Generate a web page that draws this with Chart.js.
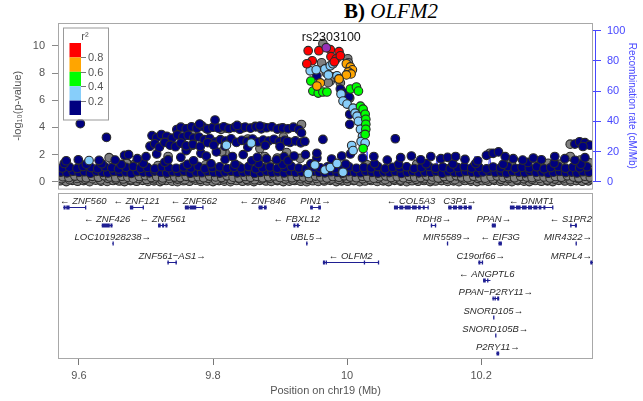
<!DOCTYPE html>
<html>
<head>
<meta charset="utf-8">
<script src="https://cdn.jsdelivr.net/npm/chart.js@4.4.0/dist/chart.umd.min.js"></script>
<style>
  body { margin: 0; background: #fff; width: 643px; height: 401px; position: relative; overflow: hidden; }
  #top { position: absolute; left: 0; top: 0; }
  #genes { position: absolute; left: 0; top: 190px; }
  #title { position: absolute; left: 344px; top: -2px; font-family: 'Liberation Serif', 'DejaVu Serif', serif; font-size: 21px; line-height: 26px; color: #000; white-space: nowrap; }
</style>
</head>
<body>
<div id="title"><b>B)</b> <i>OLFM2</i></div>
<canvas id="top" width="643" height="194"></canvas>
<canvas id="genes" width="643" height="211"></canvas>
<script>
// axis ticks
const pTicks = [0, 2, 4, 6, 8, 10];
const recTicks = [0, 20, 40, 60, 80, 100];
const posTicks = [9.6, 9.8, 10.0, 10.2];
const legendLabels = ['0.8', '0.6', '0.4', '0.2'];

// lead SNP
const leadName = 'rs2303100';
const leadSnp = [[9.969, 9.87]];

// r2 0.8 - 1
const ld8 = [[9.942,9.65],[9.958,9.65],[9.948,8.91],[9.940,8.69],[9.975,9.73],[9.988,9.58],
  [9.976,9.21],[9.984,9.06],[9.981,8.83],[9.990,9.28]];

// r2 0.6 - 0.8
const ld6 = [[9.999,8.69],[10.005,8.46],[10.008,8.24],[10.002,8.09],[10.006,7.94],[9.999,7.87],
  [9.988,7.57],[9.960,7.28],[9.955,7.05]];

// r2 0.4 - 0.6
const ld4 = [[9.946,7.42],[9.949,6.68],[9.957,6.53],[9.964,6.61],[9.970,6.61],[10.005,6.83],
  [10.014,6.98],[10.017,6.68],[10.020,5.57],[10.024,5.35],[10.027,4.97],[10.028,4.60],
  [10.028,4.23],[10.028,3.86],[10.027,3.49],[10.024,2.45]];

// r2 0.2 - 0.4
const ld2 = [[9.945,8.17],[9.954,8.24],[9.967,8.31],[9.975,8.54],[9.979,8.69],[9.985,7.80],
  [9.988,7.57],[9.972,7.87],[9.991,6.46],[9.994,5.94],[10.000,5.72],[10.009,5.42],
  [10.012,5.05],[10.015,4.83],[10.017,4.45],[10.020,3.86],[10.023,3.34],[10.021,2.97],
  [10.007,2.67],[10.009,2.30],[10.027,2.85],[9.615,1.56],[9.820,2.70],[9.857,2.85],
  [9.952,1.24],[9.967,0.87],[9.942,0.62],[9.975,1.05],[9.994,0.70],[9.985,1.35]];

// r2 < 0.2
const ld0 = [
  [9.573,0.72],[9.582,0.66],[9.591,0.78],[9.600,0.69],[9.608,0.74],[9.617,0.63],[9.626,0.77],[9.635,0.70],
  [9.643,0.65],[9.652,0.76],[9.661,0.68],[9.670,0.73],[9.678,0.62],[9.687,0.75],[9.696,0.71],[9.705,0.66],
  [9.713,0.79],[9.722,0.69],[9.731,0.64],[9.740,0.74],[9.748,0.70],[9.757,0.77],[9.766,0.63],[9.775,0.72],
  [9.783,0.67],[9.792,0.76],[9.801,0.69],[9.810,0.64],[9.818,0.73],[9.827,0.78],[9.836,0.66],[9.845,0.71],
  [9.853,0.75],[9.862,0.62],[9.871,0.70],[9.880,0.77],[9.888,0.68],[9.897,0.73],[9.906,0.65],[9.915,0.76],
  [9.923,0.69],[9.932,0.72],[9.941,0.64],[9.950,0.78],[9.958,0.70],[9.967,0.66],[9.976,0.74],[9.985,0.69],
  [9.993,0.63],[10.002,0.75],[10.011,0.71],[10.020,0.67],[10.028,0.78],[10.037,0.70],[10.046,0.64],[10.055,0.73],
  [10.063,0.68],[10.072,0.76],[10.081,0.62],[10.090,0.71],[10.098,0.75],[10.107,0.66],[10.116,0.72],[10.125,0.69],
  [10.133,0.77],[10.142,0.63],[10.151,0.74],[10.160,0.70],[10.168,0.67],[10.177,0.76],[10.186,0.71],[10.195,0.65],
  [10.203,0.73],[10.212,0.78],[10.221,0.68],[10.230,0.72],[10.238,0.64],[10.247,0.75],[10.256,0.70],[10.265,0.66],
  [10.273,0.77],[10.282,0.69],[10.291,0.73],[10.300,0.63],[10.308,0.71],[10.317,0.76],[10.326,0.68],[10.335,0.72],
  [10.343,0.65],[10.352,0.74],[10.361,0.70],
  [9.575,1.02],[9.586,1.08],[9.597,0.98],[9.606,1.12],[9.618,1.05],[9.628,0.97],[9.639,1.10],[9.649,1.03],
  [9.659,0.95],[9.670,1.07],[9.681,1.13],[9.692,1.00],[9.702,1.06],[9.713,0.96],[9.724,1.11],[9.734,1.04],
  [9.745,0.99],[9.756,1.09],[9.767,1.02],[9.778,1.14],[9.788,0.97],[9.799,1.05],[9.810,1.10],[9.821,0.98],
  [9.831,1.07],[9.842,1.01],[9.853,1.12],[9.864,0.96],[9.874,1.04],[9.885,1.09],[9.896,0.99],[9.907,1.06],
  [9.917,1.13],[9.928,1.01],[9.939,0.95],[9.950,1.08],[9.960,1.03],[9.971,1.11],[9.982,0.97],[9.993,1.05],
  [10.003,1.10],[10.014,0.99],[10.025,1.06],[10.036,1.02],[10.046,1.12],[10.057,0.96],[10.068,1.07],[10.079,1.03],
  [10.089,1.10],[10.100,0.98],[10.111,1.05],[10.122,1.13],[10.132,1.00],[10.143,1.08],[10.154,0.97],[10.165,1.04],
  [10.175,1.11],[10.186,1.01],[10.197,1.06],[10.208,0.95],[10.218,1.09],[10.229,1.03],[10.240,1.12],[10.251,0.99],
  [10.261,1.07],[10.272,1.02],[10.283,1.10],[10.294,0.96],[10.304,1.05],[10.315,1.13],[10.326,1.00],[10.337,1.08],
  [10.347,1.03],[10.358,1.11],
  [9.578,1.35],[9.611,1.30],[9.634,1.33],[9.663,1.28],[9.696,1.36],[9.728,1.44],[9.762,1.29],[9.797,1.33],
  [9.833,1.30],[9.868,1.35],[9.904,1.28],[9.946,1.32],[9.998,1.30],[10.041,1.34],[10.077,1.29],[10.118,1.33],
  [10.158,1.31],[10.192,1.35],[10.233,1.29],[10.270,1.43],[10.309,1.37],[10.349,1.30],
  [9.581,1.55],[9.599,1.62],[9.630,1.58],[9.654,1.60],[9.668,1.95],[9.674,2.00],[9.687,1.70],[9.700,1.85],
  [9.716,2.05],[9.733,1.62],[9.752,1.80],[9.760,2.30],[9.771,1.55],[9.782,2.10],[9.790,1.90],[9.805,2.20],
  [9.818,1.65],[9.829,1.86],[9.845,2.00],[9.858,1.55],[9.866,1.80],[9.880,1.70],[9.895,1.62],[9.906,1.85],
  [9.912,1.55],[9.921,1.90],[9.938,2.00],[9.955,1.75],[9.977,1.68],[9.992,1.90],[10.005,2.05],[10.023,1.75],
  [10.040,1.86],[10.060,1.60],[10.080,1.78],[10.096,1.90],[10.110,1.62],[10.125,1.86],[10.140,1.70],[10.150,1.80],
  [10.162,1.86],[10.176,1.65],[10.195,1.55],[10.208,1.95],[10.218,2.10],[10.226,2.20],[10.236,1.85],[10.248,1.70],
  [10.262,1.60],[10.278,1.75],[10.290,1.62],[10.310,1.86],[10.325,1.70],[10.340,1.58],[10.355,1.78],
  [9.602,4.28],[9.641,3.27],[10.072,3.17],
  [9.746,3.85],[9.752,4.02],[9.760,3.90],[9.768,4.05],[9.776,3.95],[9.784,4.10],[9.792,3.88],[9.800,4.02],
  [9.808,3.95],[9.816,4.05],[9.824,3.92],[9.832,4.00],[9.840,3.87],[9.848,4.03],[9.856,3.95],[9.864,4.05],
  [9.872,3.90],[9.880,3.98],[9.888,4.05],[9.896,3.88],[9.904,3.97],[9.912,3.90],[9.920,4.02],[9.928,3.85],
  [9.780,4.25],[9.803,4.55],[9.836,4.15],[9.870,4.10],
  [9.709,3.40],[9.716,3.25],[9.723,3.48],[9.731,3.35],[9.739,3.20],[9.747,3.45],[9.755,3.30],[9.763,3.42],
  [9.771,3.22],[9.779,3.30],[9.787,3.10],[9.795,3.20],[9.803,2.93],[9.811,3.10],[9.819,3.00],[9.827,3.17],
  [9.835,2.90],[9.843,3.05],[9.851,2.97],[9.859,3.15],[9.867,2.93],[9.875,3.07],[9.883,3.00],[9.891,3.13],
  [9.899,2.95],[9.907,3.05],[9.915,2.90],[9.923,3.01],[9.931,2.87],
  [9.706,2.62],[9.713,2.80],[9.720,2.55],[9.728,2.90],[9.736,2.70],[9.744,2.58],[9.752,2.85],[9.760,2.65],
  [9.770,2.75],[9.781,2.60],[9.792,2.88],[9.801,2.70],[9.818,2.62],[9.852,2.55],[9.878,2.68],
  [9.900,2.60],
  [9.990,6.83],[9.996,6.53],[10.003,6.24],[10.004,4.97],[10.004,4.23],[9.964,3.12],[9.955,2.10],[9.932,3.60],
  [9.937,2.97],[9.911,2.97],[9.955,7.80],
  [10.340,2.78],[10.347,2.95],[10.355,2.88],[10.362,2.70],[10.352,2.60]
];

// r2 missing
const naSnps = [
  [9.964,10.17],[9.962,8.76],[10.001,9.06],[10.002,8.76],[9.975,7.42],[9.990,7.28],[9.969,8.02],[10.004,6.16],
  [9.979,7.72],[9.972,7.30],
  [9.780,4.22],[9.932,4.22],[9.768,3.55],[9.820,3.95],[9.875,4.02],[9.905,3.30],[9.760,2.50],[9.733,1.86],
  [9.683,1.30],[9.650,1.60],[9.738,3.20],[9.852,3.15],[9.870,2.45],[9.818,2.15],[9.896,1.75],[9.930,1.72],
  [9.910,2.15],[9.770,2.70],[9.645,1.78],[9.672,1.36],[9.762,2.47],[9.863,4.08],[9.813,2.20],[9.877,1.86],
  [9.790,3.92],[9.845,3.98],[9.900,3.93],[9.812,3.86],
  [9.583,0.55],[9.602,1.22],[9.645,0.88],[9.671,1.35],[9.718,1.20],[9.771,0.90],[9.789,1.25],[9.838,1.15],
  [9.884,1.30],[9.927,0.85],[10.030,1.25],[10.067,0.90],[10.104,1.30],[10.148,0.95],[10.190,1.20],[10.222,0.80],
  [10.245,1.40],[10.285,1.15],[10.318,1.30],[10.352,0.95],[10.362,1.40],
  [10.213,2.10],[10.333,1.86],[10.333,2.77],[10.300,1.36],[10.348,1.60],
  [9.572,0.08],[9.581,0.02],[9.590,0.11],[9.598,0.04],[9.607,0.09],[9.616,0.01],[9.625,0.12],[9.633,0.05],
  [9.642,0.03],[9.651,0.10],[9.660,0.06],[9.668,0.02],[9.677,0.09],[9.686,0.04],[9.695,0.11],[9.703,0.03],
  [9.712,0.07],[9.721,0.02],[9.730,0.10],[9.739,0.05],[9.747,0.01],[9.756,0.08],[9.765,0.04],[9.774,0.12],
  [9.782,0.03],[9.791,0.06],[9.800,0.02],[9.809,0.09],[9.817,0.05],[9.826,0.01],[9.835,0.10],[9.844,0.04],
  [9.852,0.07],[9.861,0.02],[9.870,0.11],[9.879,0.06],[9.887,0.03],[9.896,0.09],[9.905,0.02],[9.914,0.05],
  [9.922,0.10],[9.931,0.04],[9.940,0.01],[9.949,0.08],[9.957,0.03],[9.966,0.06],[9.975,0.11],[9.984,0.02],
  [9.992,0.07],[10.001,0.04],[10.010,0.09],[10.019,0.01],[10.027,0.06],[10.036,0.10],[10.045,0.03],[10.054,0.07],
  [10.062,0.02],[10.071,0.11],[10.080,0.05],[10.089,0.01],[10.097,0.08],[10.106,0.04],[10.115,0.10],[10.124,0.02],
  [10.132,0.06],[10.141,0.09],[10.150,0.03],[10.159,0.07],[10.167,0.01],[10.176,0.10],[10.185,0.05],[10.194,0.02],
  [10.202,0.08],[10.211,0.04],[10.220,0.11],[10.229,0.03],[10.237,0.06],[10.246,0.01],[10.255,0.09],[10.264,0.05],
  [10.272,0.02],[10.281,0.10],[10.290,0.04],[10.299,0.07],[10.307,0.02],[10.316,0.11],[10.325,0.06],[10.334,0.03],
  [10.342,0.09],[10.351,0.04],[10.360,0.07],
  [9.574,0.22],[9.586,0.16],[9.597,0.25],[9.609,0.18],[9.620,0.23],[9.632,0.14],[9.643,0.26],[9.655,0.19],
  [9.666,0.21],[9.678,0.15],[9.689,0.24],[9.701,0.17],[9.712,0.22],[9.724,0.13],[9.735,0.25],[9.747,0.20],
  [9.758,0.16],[9.770,0.23],[9.781,0.18],[9.793,0.26],[9.804,0.14],[9.816,0.21],[9.827,0.17],[9.839,0.24],
  [9.850,0.19],[9.862,0.15],[9.873,0.22],[9.885,0.26],[9.896,0.16],[9.908,0.20],[9.919,0.13],[9.931,0.23],
  [9.942,0.18],[9.954,0.25],[9.965,0.15],[9.977,0.21],[9.988,0.17],[10.000,0.24],[10.011,0.14],[10.023,0.22],
  [10.034,0.19],[10.046,0.26],[10.057,0.16],[10.069,0.21],[10.080,0.13],[10.092,0.24],[10.103,0.18],[10.115,0.22],
  [10.126,0.15],[10.138,0.25],[10.149,0.20],[10.161,0.16],[10.172,0.23],[10.184,0.17],[10.195,0.26],[10.207,0.14],
  [10.218,0.21],[10.230,0.18],[10.241,0.24],[10.253,0.15],[10.264,0.22],[10.276,0.19],[10.287,0.25],[10.299,0.13],
  [10.310,0.20],[10.322,0.23],[10.333,0.16],[10.345,0.24],[10.356,0.18],[10.365,0.21],
  [9.576,0.38],[9.585,0.31],[9.594,0.42],[9.603,0.35],[9.611,0.29],[9.620,0.40],[9.629,0.33],[9.638,0.44],
  [9.646,0.36],[9.655,0.30],[9.664,0.41],[9.673,0.34],[9.681,0.27],[9.690,0.39],[9.699,0.45],[9.708,0.32],
  [9.716,0.37],[9.725,0.28],[9.734,0.43],[9.743,0.35],[9.751,0.31],[9.760,0.40],[9.769,0.33],[9.778,0.38],
  [9.786,0.29],[9.795,0.42],[9.804,0.36],[9.813,0.31],[9.821,0.44],[9.830,0.34],[9.839,0.28],[9.848,0.39],
  [9.856,0.33],[9.865,0.41],[9.874,0.30],[9.883,0.37],[9.891,0.43],[9.900,0.32],[9.909,0.38],[9.918,0.29],
  [9.926,0.40],[9.935,0.35],[9.944,0.31],[9.953,0.42],[9.961,0.36],[9.970,0.28],[9.979,0.39],[9.988,0.33],
  [9.996,0.44],[10.005,0.35],[10.014,0.30],[10.023,0.41],[10.031,0.34],[10.040,0.27],[10.049,0.38],[10.058,0.43],
  [10.066,0.32],[10.075,0.37],[10.084,0.29],[10.093,0.40],[10.101,0.34],[10.110,0.31],[10.119,0.42],[10.128,0.36],
  [10.136,0.28],[10.145,0.39],[10.154,0.33],[10.163,0.44],[10.171,0.35],[10.180,0.30],[10.189,0.41],[10.198,0.34],
  [10.206,0.27],[10.215,0.38],[10.224,0.43],[10.233,0.32],[10.241,0.37],[10.250,0.29],[10.259,0.40],[10.268,0.35],
  [10.276,0.31],[10.285,0.42],[10.294,0.36],[10.303,0.28],[10.311,0.39],[10.320,0.33],[10.329,0.44],[10.338,0.35],
  [10.346,0.30],[10.355,0.41],[10.363,0.34]
];

// recombination rate (cM/Mb)
const recPos = [9.569, 9.600, 9.640, 9.700, 9.760, 9.820, 9.880, 9.940, 9.990, 10.020, 10.025, 10.027,
  10.030, 10.032, 10.060, 10.100, 10.106, 10.109, 10.112, 10.128, 10.132, 10.134, 10.137, 10.140,
  10.142, 10.145, 10.170, 10.186, 10.189, 10.191, 10.194, 10.205, 10.210, 10.213, 10.216, 10.240,
  10.280, 10.320, 10.367];
const recRate = [0.5, 0.8, 0.4, 0.6, 0.3, 0.5, 0.7, 1.0, 1.5, 2, 21, 3,
  20, 2, 1.5, 2, 4, 17, 3, 2, 5, 17, 3, 4,
  12, 2, 1.5, 2, 6, 17, 3, 2, 5, 18, 3, 1.5,
  2.5, 1.8, 2];

// genes
const geneNames = ['ZNF560', 'ZNF121', 'ZNF562', 'ZNF846', 'PIN1', 'COL5A3', 'C3P1', 'DNMT1',
  'ZNF426', 'ZNF561', 'FBXL12', 'RDH8', 'PPAN', 'S1PR2',
  'LOC101928238', 'UBL5', 'MIR5589', 'EIF3G', 'MIR4322',
  'ZNF561\u2212AS1', 'OLFM2', 'C19orf66', 'MRPL4',
  'ANGPTL6', 'PPAN\u2212P2RY11', 'SNORD105', 'SNORD105B', 'P2RY11'];
const geneStart = [9.5766, 9.676, 9.758, 9.868, 9.945, 10.070, 10.151, 10.243,
  9.634, 9.718, 9.920, 10.125, 10.216, 10.333,
  9.650, 9.939, 10.149, 10.226, 10.341,
  9.732, 9.964, 10.196, 10.363,
  10.203, 10.217, 10.218, 10.221, 10.223];
const geneEnd = [9.610, 9.696, 9.785, 9.880, 9.961, 10.121, 10.186, 10.307,
  9.650, 9.732, 9.930, 10.133, 10.222, 10.343,
  9.651, 9.941, 10.1495, 10.231, 10.3413,
  9.746, 10.047, 10.203, 10.375,
  10.214, 10.227, 10.2185, 10.2215, 10.227];
const geneStrand = [-1, -1, -1, -1, 1, -1, 1, -1,
  -1, -1, -1, 1, 1, -1,
  1, 1, 1, -1, 1,
  1, -1, 1, 1,
  -1, 1, 1, 1, 1];
const geneRow = [1, 1, 1, 1, 1, 1, 1, 1,
  2, 2, 2, 2, 2, 2,
  3, 3, 3, 3, 3,
  4, 4, 4, 4,
  5, 6, 7, 8, 9];
const geneExons = [
  [[9.577,9.580],[9.581,9.586],[9.609,9.610]],
  [[9.676,9.681],[9.695,9.696]],
  [[9.758,9.764],[9.765,9.775],[9.784,9.785]],
  [[9.868,9.874],[9.876,9.880]],
  [[9.945,9.949],[9.957,9.961]],
  [[10.070,10.076],[10.078,10.084],[10.086,10.095],[10.097,10.104],[10.106,10.110],[10.113,10.116],[10.120,10.121]],
  [[10.151,10.156],[10.158,10.164],[10.166,10.172],[10.174,10.179],[10.181,10.186]],
  [[10.243,10.250],[10.252,10.259],[10.261,10.268],[10.270,10.276],[10.278,10.284],[10.286,10.290],[10.293,10.296],[10.306,10.307]],
  [[9.634,9.646],[9.647,9.650]],
  [[9.718,9.722],[9.724,9.727],[9.729,9.732]],
  [[9.920,9.923],[9.925,9.928]],
  [[10.125,10.127],[10.131,10.133]],
  [[10.216,10.222]],
  [[10.333,10.335],[10.340,10.343]],
  [[9.650,9.651]],
  [[9.939,9.941]],
  [[10.149,10.1495]],
  [[10.226,10.231]],
  [[10.341,10.3413]],
  [[9.732,9.734],[9.744,9.746]],
  [[9.964,9.967],[9.968,9.970],[10.025,10.026],[10.046,10.047]],
  [[10.196,10.199],[10.201,10.203]],
  [[10.363,10.366],[10.368,10.372]],
  [[10.203,10.207],[10.209,10.210]],
  [[10.217,10.219],[10.220,10.222],[10.224,10.227]],
  [[10.218,10.2185]],
  [[10.221,10.2215]],
  [[10.223,10.227]]
];

const xMin = 9.5687, xMax = 10.367;
const FONT = "'Liberation Sans', Arial, 'DejaVu Sans', sans-serif";
Chart.defaults.font.family = FONT;
Chart.defaults.font.size = 11;

const recColor = '#4747ff';
const ldFills = ['#FF0000', '#FFA500', '#00FF00', '#87CEFA', '#000080'];

function toPts(list) {
  return list.map(p => ({ x: p[0], y: p[1] }));
}

function snpSet(label, list, fill) {
  return {
    type: 'scatter', label: label, data: toPts(list), yAxisID: 'y',
    backgroundColor: fill, borderColor: '#2b2b2b', borderWidth: 1.1,
    pointRadius: 4.3
  };
}

// decorations of the association panel
const topDecor = {
  id: 'topDecor',
  afterDraw(chart) {
    const ctx = chart.ctx, ca = chart.chartArea, y2 = chart.scales.y2, y = chart.scales.y, x = chart.scales.x;
    ctx.save();
    ctx.strokeStyle = '#a8a8a8';
    ctx.lineWidth = 1;
    ctx.strokeRect(ca.left + 0.5, ca.top + 0.5, ca.width - 1, ca.height);

    // right axis line
    ctx.strokeStyle = recColor;
    ctx.beginPath();
    ctx.moveTo(ca.right + 2.5, y2.getPixelForValue(0));
    ctx.lineTo(ca.right + 2.5, y2.getPixelForValue(100));
    ctx.stroke();

    // lead snp label
    ctx.fillStyle = '#111';
    ctx.font = '12.5px ' + FONT;
    ctx.textAlign = 'center';
    ctx.textBaseline = 'middle';
    ctx.fillText(leadName, x.getPixelForValue(leadSnp[0][0]) + 5, y.getPixelForValue(leadSnp[0][1]) - 10);

    // r2 legend
    const lx = ca.left + 5, ly = ca.top + 4.5;
    ctx.fillStyle = '#fff';
    ctx.fillRect(lx, ly, 45, 92);
    ctx.strokeStyle = '#999';
    ctx.strokeRect(lx + 0.5, ly + 0.5, 45, 92);
    const bx = lx + 6.5, by = ly + 15.5, bw = 11.5, bh = 14.4;
    ldFills.forEach((c, i) => {
      ctx.fillStyle = c;
      ctx.fillRect(bx, by + i * bh, bw, bh);
    });
    ctx.fillStyle = '#555';
    ctx.font = '11px ' + FONT;
    ctx.textAlign = 'center';
    ctx.fillText('r\u00B2', lx + 22, ly + 9);
    ctx.textAlign = 'left';
    ctx.strokeStyle = '#777';
    legendLabels.forEach((t, i) => {
      const ty = Math.round(by + (i + 1) * bh) + 0.5;
      ctx.beginPath();
      ctx.moveTo(bx + bw, ty);
      ctx.lineTo(bx + bw + 5, ty);
      ctx.stroke();
      ctx.fillText(t, bx + bw + 7, ty + 0.5);
    });
    ctx.restore();
  }
};

new Chart(document.getElementById('top').getContext('2d'), {
  data: {
    datasets: [
      snpSet('lead', leadSnp, '#9632B8'),
      snpSet('0.8-1', ld8, ldFills[0]),
      snpSet('0.6-0.8', ld6, ldFills[1]),
      snpSet('0.4-0.6', ld4, ldFills[2]),
      snpSet('0.2-0.4', ld2, ldFills[3]),
      snpSet('<0.2', ld0, ldFills[4]),
      snpSet('NA', naSnps, '#808080'),
      {
        type: 'line', label: 'recomb', yAxisID: 'y2',
        data: recPos.map((p, i) => ({ x: p, y: recRate[i] })),
        borderColor: recColor, borderWidth: 1, pointRadius: 0, tension: 0, fill: false
      }
    ]
  },
  options: {
    responsive: false,
    animation: false,
    events: [],
    layout: { padding: { top: 23, bottom: 0, left: 0, right: 0 } },
    plugins: { legend: { display: false }, tooltip: { enabled: false } },
    scales: {
      x: { type: 'linear', min: xMin, max: xMax, display: false },
      y: {
        type: 'linear', position: 'left', min: -0.5, max: 11.69,
        afterBuildTicks: s => { s.ticks = pTicks.map(v => ({ value: v })); },
        afterFit: s => { s.width = 58; s.paddingTop = 0; s.paddingBottom = 0; },
        grid: { drawOnChartArea: false, tickLength: 6, color: '#888' },
        border: { display: false },
        ticks: { color: '#555', padding: 7, font: { size: 11 } },
        title: { display: true, text: '-log\u2081\u2080(p-value)', color: '#555', font: { size: 11 }, padding: { top: 11, bottom: 0 } }
      },
      y2: {
        type: 'linear', position: 'right', min: -4.5, max: 105.1,
        afterBuildTicks: s => { s.ticks = recTicks.map(v => ({ value: v })); },
        afterFit: s => { s.width = 50; s.paddingTop = 0; s.paddingBottom = 0; },
        grid: { drawOnChartArea: false, tickLength: 8, color: recColor },
        border: { display: false },
        ticks: { color: recColor, padding: 6, font: { size: 11 } },
        title: { display: true, text: 'Recombination rate (cM/Mb)', color: recColor, font: { size: 10 }, padding: { top: 5, bottom: 0 } }
      }
    }
  },
  plugins: [topDecor]
});

// gene track
const geneColor = '#1f1f92';
const geneTrack = {
  id: 'geneTrack',
  afterDraw(chart) {
    const ctx = chart.ctx, ca = chart.chartArea, xs = chart.scales.x, ys = chart.scales.y;
    ctx.save();
    ctx.strokeStyle = '#a8a8a8';
    ctx.lineWidth = 1;
    ctx.strokeRect(ca.left + 0.5, ca.top + 0.5, ca.width - 1, ca.height);
    ctx.beginPath();
    ctx.rect(ca.left, ca.top, ca.width, ca.height);
    ctx.clip();
    ctx.font = 'italic 9.5px ' + FONT;
    ctx.textBaseline = 'middle';
    ctx.textAlign = 'center';
    geneNames.forEach((name, i) => {
      const yb = Math.round(ys.getPixelForValue(geneRow[i]));
      const x1 = xs.getPixelForValue(geneStart[i]);
      const x2 = xs.getPixelForValue(geneEnd[i]);
      ctx.strokeStyle = geneColor;
      ctx.fillStyle = geneColor;
      ctx.beginPath();
      ctx.moveTo(x1, yb + 0.5);
      ctx.lineTo(x2, yb + 0.5);
      ctx.stroke();
      geneExons[i].forEach(e => {
        const e1 = xs.getPixelForValue(e[0]), e2 = xs.getPixelForValue(e[1]);
        ctx.fillRect(e1, yb - 1.5, Math.max(e2 - e1, 1.3), 4);
      });
      const text = geneStrand[i] < 0 ? '\u2190 ' + name : name + '\u2192';
      const w = ctx.measureText(text).width;
      let cx = (x1 + x2) / 2;
      cx = Math.max(ca.left + w / 2 + 2, Math.min(ca.right - w / 2 - 1, cx));
      ctx.fillStyle = '#2a2a2a';
      ctx.fillText(text, cx, yb - 6);
    });
    ctx.restore();
  }
};

new Chart(document.getElementById('genes').getContext('2d'), {
  type: 'scatter',
  data: { datasets: [{ data: [], pointRadius: 0 }] },
  options: {
    responsive: false,
    animation: false,
    events: [],
    layout: { padding: { top: 3, bottom: 0, left: 58, right: 50 } },
    plugins: { legend: { display: false }, tooltip: { enabled: false } },
    scales: {
      x: {
        type: 'linear', min: xMin, max: xMax,
        afterBuildTicks: s => { s.ticks = posTicks.map(v => ({ value: v })); },
        afterFit: s => { s.height = 43; },
        grid: { drawOnChartArea: false, tickLength: 7, color: '#777' },
        border: { display: false },
        ticks: { color: '#555', padding: 4, font: { size: 11 }, maxRotation: 0, callback: v => String(v) },
        title: { display: true, text: 'Position on chr19 (Mb)', color: '#555', font: { size: 11 }, padding: { top: 0, bottom: 3 } }
      },
      y: { type: 'linear', min: 0.25, max: 9.25, reverse: true, display: false }
    }
  },
  plugins: [geneTrack]
});
</script>
</body>
</html>
